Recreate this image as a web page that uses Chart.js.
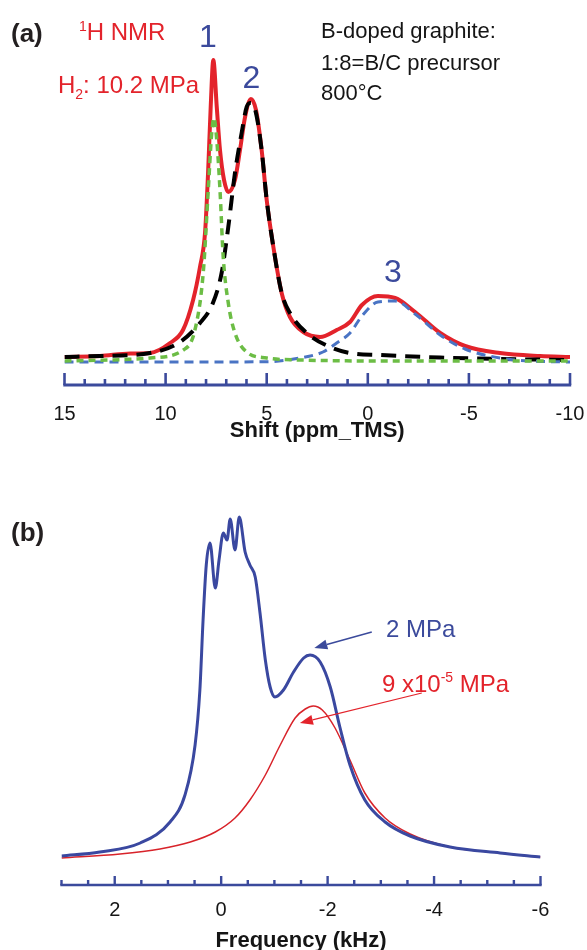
<!DOCTYPE html>
<html>
<head>
<meta charset="utf-8">
<script src="https://cdn.jsdelivr.net/npm/chart.js@4.4.0/dist/chart.umd.min.js"></script>
<style>
html,body{margin:0;padding:0;background:#fff;overflow:hidden;}
body{width:587px;height:950px;position:relative;}
canvas{position:absolute;left:0;}
#chartA{top:0;}
#chartB{top:460px;}
</style>
</head>
<body>
<canvas id="chartA" width="587" height="460"></canvas>
<canvas id="chartB" width="587" height="500"></canvas>
<script>
var FONT = 'Arial, "Liberation Sans", sans-serif';

// ---- (a) 1H NMR spectrum, shift in ppm, intensity in arbitrary units ----
var totalShift = [15, 13.24, 11.76, 10.77, 9.78, 9.14, 8.64, 8.30, 8.05, 7.90, 7.77, 7.64, 7.47, 7.31, 7.11, 6.90, 6.57, 6.32, 6.07, 5.78, 5.53, 5.25, 5.00, 4.67, 4.26, 3.85, 3.19, 2.36, 1.54, 0.88, 0.29, -0.50, -1.35, -2.34, -3.58, -4.81, -6.54, -8.52, -10];
var totalInt   = [5, 6, 8.5, 9, 19, 32, 62, 95, 129, 189, 255, 302, 255, 212, 182, 170, 182, 212, 245, 263, 252, 212, 162, 115, 69, 45, 30, 25, 32, 40, 57, 66, 64, 50, 29, 16, 9, 6, 5];

var peak2Shift = [15, 13.24, 10.77, 9.29, 8.30, 7.66, 7.23, 6.90, 6.57, 6.24, 5.99, 5.79, 5.53, 5.25, 5.00, 4.67, 4.26, 3.85, 3.02, 1.87, 0.88, -0.60, -3.57, -6.54, -10];
var peak2Int   = [5, 6, 9, 20, 39, 59, 89, 135, 189, 229, 255, 259, 249, 212, 162, 115, 69, 49, 29, 15, 9, 7, 4.5, 3, 2];

var peak1Shift = [15, 12.0, 10.77, 9.12, 8.55, 8.14, 7.89, 7.72, 7.61, 7.47, 7.31, 7.15, 6.90, 6.57, 5.99, 5.00, 3.35, -1.59, -10];
var peak1Int   = [1, 2.5, 4, 12, 32, 89, 172, 229, 244, 222, 172, 105, 59, 29, 10, 4, 2, 1, 1];

var peak3Shift = [15, 8.3, 5.0, 3.35, 2.22, 1.54, 0.88, 0.29, -0.50, -1.35, -2.34, -3.58, -4.81, -6.54, -8.0, -10];
var peak3Int   = [0, 0, 0.3, 4, 10, 19, 29, 46, 60, 61, 48, 27, 13, 4, 1, 0];

// ---- (b) spectra vs frequency in kHz ----
var highFreq = [3.0, 2.28, 1.52, 0.96, 0.68, 0.49, 0.40, 0.34, 0.28, 0.21, 0.11, 0.04, -0.04, -0.11, -0.17, -0.26, -0.34, -0.45, -0.54, -0.64, -0.73, -0.83, -0.92, -1.01, -1.17, -1.36, -1.55, -1.67, -1.86, -2.05, -2.23, -2.42, -2.70, -3.08, -3.55, -4.30, -5.24, -6.0];
var highInt  = [2, 6, 15, 36, 63, 113, 168, 238, 293, 315, 270, 298, 325, 318, 339, 308, 341, 306, 293, 281, 245, 198, 171, 161, 168, 186, 200, 203, 196, 171, 131, 93, 58, 36, 22, 11, 5, 1];

var lowFreq = [3.0, 1.90, 1.15, 0.58, 0.11, -0.26, -0.54, -0.83, -1.11, -1.39, -1.58, -1.73, -1.90, -2.14, -2.42, -2.70, -3.08, -3.55, -4.30, -5.24, -6.0];
var lowInt  = [0, 4, 9, 16, 26, 40, 58, 83, 113, 140, 149, 152, 148, 130, 98, 65, 40, 24, 11, 5, 1];

function pts(xs, ys) {
  var out = [];
  for (var i = 0; i < xs.length; i++) out.push({x: xs[i], y: ys[i]});
  return out;
}

var AXIS_BLUE = '#3b4a9c';

// axis line with ticks pointing up into the plot
var axisTicks = {
  id: 'axisTicks',
  afterDatasetsDraw: function(chart, args, o) {
    var sx = chart.scales.x, ctx = chart.ctx, y0 = chart.chartArea.bottom;
    ctx.save();
    ctx.strokeStyle = AXIS_BLUE;
    ctx.lineWidth = o.tickWidth;
    sx.ticks.forEach(function(t) {
      var px = sx.getPixelForValue(t.value);
      var major = Math.abs(t.value % o.majorEvery) < 1e-6;
      ctx.beginPath();
      ctx.moveTo(px, y0);
      ctx.lineTo(px, y0 - (major ? o.major : o.minor));
      ctx.stroke();
    });
    ctx.lineWidth = o.lineWidth;
    ctx.beginPath();
    ctx.moveTo(sx.left - 1.2, y0);
    ctx.lineTo(sx.right + 1.2, y0);
    ctx.stroke();
    ctx.restore();
  }
};

// free text and arrows
var notes = {
  id: 'notes',
  afterDraw: function(chart, args, o) {
    var ctx = chart.ctx;
    ctx.save();
    ctx.textBaseline = 'alphabetic';
    (o.texts || []).forEach(function(t) {
      var x = t.x;
      var runs = t.runs || [{text: t.text}];
      if (t.center) {
        ctx.font = (t.bold ? 'bold ' : '') + t.size + 'px ' + FONT;
        x = t.x - ctx.measureText(runs[0].text).width / 2;
      }
      runs.forEach(function(r) {
        ctx.font = (t.bold ? 'bold ' : '') + (r.size || t.size) + 'px ' + FONT;
        ctx.fillStyle = t.color;
        ctx.fillText(r.text, x, t.y + (r.dy || 0));
        x += ctx.measureText(r.text).width;
      });
    });
    (o.arrows || []).forEach(function(a) {
      var sx = chart.scales.x, sy = chart.scales.y;
      var x1 = sx.getPixelForValue(a.from[0]), y1 = sy.getPixelForValue(a.from[1]);
      var x2 = sx.getPixelForValue(a.to[0]), y2 = sy.getPixelForValue(a.to[1]);
      var ang = Math.atan2(y2 - y1, x2 - x1), L = 13, W = 5;
      var bx = x2 - L * Math.cos(ang), by = y2 - L * Math.sin(ang);
      ctx.strokeStyle = a.color; ctx.fillStyle = a.color; ctx.lineWidth = a.width;
      ctx.beginPath(); ctx.moveTo(x1, y1); ctx.lineTo(bx, by); ctx.stroke();
      ctx.beginPath();
      ctx.moveTo(x2, y2);
      ctx.lineTo(bx + W * Math.sin(ang), by - W * Math.cos(ang));
      ctx.lineTo(bx - W * Math.sin(ang), by + W * Math.cos(ang));
      ctx.closePath(); ctx.fill();
    });
    ctx.restore();
  }
};

function line(data, color, width, dash) {
  return {
    data: data, borderColor: color, borderWidth: width, borderDash: dash || [],
    pointRadius: 0, fill: false, cubicInterpolationMode: 'monotone', borderCapStyle: 'butt'
  };
}

// x scale keeps a fixed height and no label overhang padding
function fixAxis(h) {
  return function(s) {
    s.height = h;
    s.paddingLeft = 0;
    s.paddingRight = 0;
  };
}

// ---------------- chart (a) ----------------
new Chart(document.getElementById('chartA'), {
  type: 'line',
  data: {
    datasets: [
      line(pts(peak1Shift, peak1Int), '#6cbd45', 3.5, [7, 5]),
      line(pts(peak3Shift, peak3Int), '#4a74c4', 3, [9, 6]),
      line(pts(peak2Shift, peak2Int), '#000000', 4, [15, 9]),
      line(pts(totalShift, totalInt), '#e3232b', 4)
    ]
  },
  options: {
    responsive: false, animation: false,
    layout: {padding: {left: 64.5, right: 17, top: 20, bottom: 0}},
    plugins: {
      legend: {display: false}, tooltip: {enabled: false},
      axisTicks: {major: 12, minor: 6, majorEvery: 5, tickWidth: 2.6, lineWidth: 3},
      notes: {
        texts: [
          {text: '(a)', x: 11, y: 42, size: 26, bold: true, color: '#231f20'},
          {x: 79, y: 40, size: 24, color: '#e3232b', runs: [{text: '1', size: 14, dy: -9}, {text: 'H NMR'}]},
          {x: 58, y: 93, size: 24, color: '#e3232b', runs: [{text: 'H'}, {text: '2', size: 14, dy: 6}, {text: ': 10.2 MPa'}]},
          {text: 'B-doped graphite:', x: 321, y: 38, size: 22, color: '#151515'},
          {text: '1:8=B/C precursor', x: 321, y: 70, size: 22, color: '#151515'},
          {text: '800\u00b0C', x: 321, y: 100, size: 22, color: '#151515'},
          {text: '1', x: 208, y: 47, size: 32, color: '#3b4a9c', center: true},
          {text: '2', x: 251.5, y: 88, size: 32, color: '#3b4a9c', center: true},
          {text: '3', x: 393, y: 282, size: 32, color: '#3b4a9c', center: true}
        ]
      }
    },
    scales: {
      x: {
        type: 'linear', min: -10, max: 15, reverse: true,
        border: {display: false},
        grid: {display: false, drawTicks: false},
        ticks: {
          stepSize: 1, autoSkip: false, maxRotation: 0, padding: 17, color: '#151515',
          font: {size: 20, family: FONT},
          callback: function(v) { return v % 5 === 0 ? String(v) : ''; }
        },
        title: {display: true, text: 'Shift (ppm_TMS)', color: '#151515', font: {size: 22, weight: 'bold', family: FONT}, padding: {top: 0, bottom: 16}},
        afterFit: fixAxis(75)
      },
      y: {type: 'linear', display: false, min: -23, max: 342}
    }
  },
  plugins: [axisTicks, notes]
});

// ---------------- chart (b) ----------------
new Chart(document.getElementById('chartB'), {
  type: 'line',
  data: {
    datasets: [
      line(pts(highFreq, highInt), '#3a48a0', 3),
      line(pts(lowFreq, lowInt), '#d8232a', 1.5)
    ]
  },
  options: {
    responsive: false, animation: false,
    layout: {padding: {left: 61.5, right: 46.5, top: 20, bottom: 0}},
    plugins: {
      legend: {display: false}, tooltip: {enabled: false},
      axisTicks: {major: 9, minor: 5, majorEvery: 2, tickWidth: 2.4, lineWidth: 2.6},
      notes: {
        texts: [
          {text: '(b)', x: 11, y: 81, size: 26, bold: true, color: '#231f20'},
          {text: '2 MPa', x: 386, y: 177, size: 24, color: '#3b4a9c'},
          {x: 382, y: 232, size: 24, color: '#e3232b', runs: [{text: '9 x10'}, {text: '-5', size: 14, dy: -10}, {text: ' MPa'}]}
        ],
        arrows: [
          {from: [-2.83, 226], to: [-1.75, 210], color: '#3b4a9c', width: 1.5},
          {from: [-3.77, 165], to: [-1.48, 135], color: '#e3232b', width: 1.2}
        ]
      }
    },
    scales: {
      x: {
        type: 'linear', min: -6, max: 3, reverse: true,
        border: {display: false},
        grid: {display: false, drawTicks: false},
        ticks: {
          stepSize: 0.5, autoSkip: false, maxRotation: 0, padding: 13, color: '#151515',
          font: {size: 20, family: FONT},
          callback: function(v) { return v % 2 === 0 ? String(v) : ''; }
        },
        title: {display: true, text: 'Frequency (kHz)', color: '#151515', font: {size: 22, weight: 'bold', family: FONT}, padding: {top: 0, bottom: 6}},
        afterFit: fixAxis(75)
      },
      y: {type: 'linear', display: false, min: -27, max: 378}
    }
  },
  plugins: [axisTicks, notes]
});
</script>
</body>
</html>
